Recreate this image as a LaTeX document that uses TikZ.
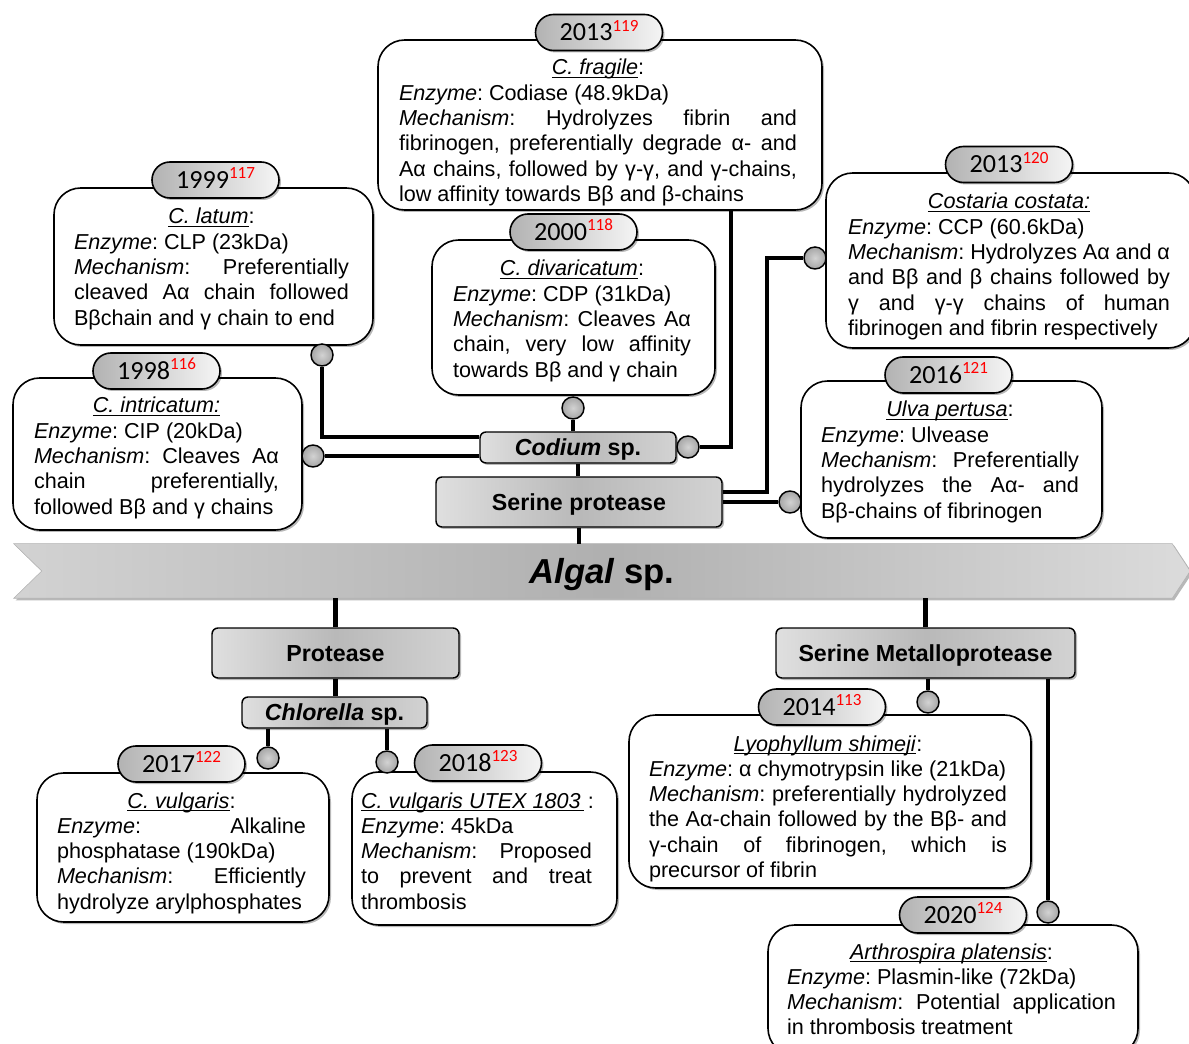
\documentclass[tikz,border=0pt]{standalone}
\usepackage{fontspec}
\setmainfont{Liberation Sans}
\newfontfamily\pillfont{Carlito}
\usetikzlibrary{shadows,backgrounds}
\newcommand\rs{\spaceskip=0pt\xspaceskip=0pt\frenchspacing}
\newcommand\Jl[1]{\makebox[\linewidth][s]{\rs #1}\\}
\newcommand\Cl[1]{\makebox[\linewidth][c]{\rs #1}\\}
\newcommand\Nl[1]{\makebox[\linewidth][l]{\rs #1}\\}
\newcommand\Ll[1]{\makebox[\linewidth][l]{\rs #1}}
\newcommand\Enz{\textit{Enzyme}}
\newcommand\Mech{\textit{Mechanism}}
\newcommand\spc[1]{\underline{\smash{\textit{#1}}}}
\newcommand\ibox[5]{\node[ibox, minimum width={(#4-#2)*0.75pt}, minimum height={(#5-#3)*0.75pt}] (#1) at ({(#2+#4)/2},{(#3+#5)/2}) {};}
\newcommand\lbox[6]{\node[lbox, minimum width={(#4-#2)*0.75pt}, minimum height={(#5-#3)*0.75pt}] (#1) at ({(#2+#4)/2},{(#3+#5)/2}) {#6};}
\newcommand\pill[5]{\node[pill] (#1) at (#2,#3) {#4\raisebox{7pt}{\fontsize{12.8}{13}\selectfont\color{red}#5}};}
\newcommand\knob[3]{\node[knob] (#1) at (#2,#3) {};}
\begin{document}
\begin{tikzpicture}[x=0.75pt,y=-0.75pt,
  conn/.style={line width=3.6pt},
  shad/.style={drop shadow={shadow xshift=1.5pt, shadow yshift=-1.5pt, opacity=0.28, fill=black}},
  ibox/.style={draw, line width=1.2pt, rounded corners=20pt, fill=white, inner sep=0, shad},
  pill/.style={draw, line width=1.2pt, rounded corners=13.5pt, minimum width=95.25pt, minimum height=27pt, inner sep=0, text height=12.4pt, text depth=0pt, left color=gray!60, right color=gray!8, shad, font=\pillfont\fontsize{19.6}{20}\selectfont},
  lbox/.style={draw, line width=1.1pt, rounded corners=4.5pt, inner sep=0, text height=12.5pt, text depth=0pt, left color=gray!25, right color=gray!35, middle color=gray!55, shad, font=\fontsize{17.4}{20}\selectfont\bfseries},
  knob/.style={circle, draw, line width=1.1pt, minimum size=16.5pt, inner sep=0, inner color=gray!35, outer color=gray!70},
  txt/.style={inner sep=0, outer sep=0, align=left, anchor=base west, font=\fontsize{16.2}{18.94}\selectfont},
  bandtext/.style={inner sep=0, text height=18.6pt, text depth=0pt, font=\fontsize{26}{30}\selectfont\bfseries},
  bandfill/.style={left color=gray!35, right color=gray!28, middle color=gray!62, draw=gray!60, line width=0.4pt, shad}
]
\useasboundingbox (0,0) rectangle (1189,1044);
\clip (0,0) rectangle (1189,1044);

% information boxes
\ibox{b1999}{54}{188}{373}{345}
\ibox{b1998}{13}{378}{302}{530}
\ibox{b2013a}{378}{40}{822}{210}
\ibox{b2000}{432}{240}{715}{395}
\ibox{b2013b}{826}{173}{1195}{348}
\ibox{b2016}{801}{381}{1102}{538}
\ibox{b2017}{37}{773}{329}{922}
\ibox{b2018}{352}{772}{617}{925}
\ibox{b2014}{629}{715}{1031}{888}
\ibox{b2020}{768}{925}{1138}{1055}

% year tabs
\pill{p1999}{215.5}{180}{1999}{117}
\pill{p1998}{156.5}{371}{1998}{116}
\pill{p2013a}{599}{32.5}{2013}{119}
\pill{p2000}{573.5}{232}{2000}{118}
\pill{p2013b}{1009}{164.5}{2013}{120}
\pill{p2016}{948.5}{375}{2016}{121}
\pill{p2017}{181.5}{764}{2017}{122}
\pill{p2018}{478}{763}{2018}{123}
\pill{p2014}{822}{707}{2014}{113}
\pill{p2020}{963}{915}{2020}{124}

% label boxes
\lbox{codium}{480}{432}{676}{463}{\textit{Codium} sp.}
\lbox{serine}{436}{477}{722}{527}{Serine protease}
\lbox{protease}{212}{628}{459}{678}{Protease}
\lbox{chlorella}{242}{697}{427}{728}{\textit{Chlorella} sp.}
\lbox{metallo}{776}{628}{1075}{678}{Serine Metalloprotease}

% band (text node; chevron drawn behind)
\node[bandtext, minimum width=882pt, minimum height=40.5pt] (band) at (602,571) {\textit{Algal} sp.};

% circles
\knob{c1999}{322}{355}
\knob{c1998}{313}{456}
\knob{c2000}{573}{408}
\knob{c2013a}{688}{447}
\knob{c2013b}{815}{258}
\knob{c2016}{790}{502}
\knob{c2017}{268}{758}
\knob{c2018}{387}{762}
\knob{c2014}{928}{702}
\knob{c2020}{1048}{912}

\begin{scope}[on background layer]
% chevron band
\path[bandfill] (band.north west) -- ([xshift=-13.5pt]band.north east) -- (band.east)
  -- ([xshift=-13.5pt]band.south east) -- (band.south west) -- ([xshift=21pt]band.west) -- cycle;
% connectors
\draw[conn] (c1999) |- ([yshift=7.9pt]codium.west);
\draw[conn] (c1998) -- (c1998 -| codium.west);
\draw[conn] (c2000) -- (c2000 |- codium.north);
\draw[conn] ([xshift=98.25pt]b2013a.south) |- (c2013a);
\draw[conn] ([yshift=7.5pt]serine.east) -| ([xshift=-36pt]c2013b.center) -- (c2013b);
\draw[conn] (serine.east) -- (c2016);
\draw[conn] (codium.south) -- (codium.south |- serine.north);
\draw[conn] (serine.south) -- (serine.south |- band.north);
\draw[conn] (protease.north) -- (protease.north |- band.south);
\draw[conn] (protease.south) -- (protease.south |- chlorella.north);
\draw[conn] (c2017 |- chlorella.south) -- (c2017);
\draw[conn] (c2018 |- chlorella.south) -- (c2018);
\draw[conn] (metallo.north) -- (metallo.north |- band.south);
\draw[conn] (c2014 |- metallo.south) -- (c2014);
\draw[conn] (c2020 |- metallo.south) -- (c2020);
\end{scope}

% texts
\node[txt, text width=206.25pt] (t1999) at (74,224) {\Cl{\spc{C. latum}:}\Nl{\Enz: CLP (23kDa)}\Jl{\Mech: Preferentially}\Jl{cleaved Aα chain followed}\Ll{Bβchain and γ chain to end}};
\node[txt, text width=183.75pt] (t1998) at (34,413) {\Cl{\spc{C. intricatum:}}\Nl{\Enz: CIP (20kDa)}\Jl{\Mech: Cleaves Aα}\Jl{chain preferentially,}\Ll{followed Bβ and γ chains}};
\node[txt, text width=298.5pt] (t2013a) at (399,75) {\Cl{\spc{C. fragile}:}\Nl{\Enz: Codiase (48.9kDa)}\Jl{\Mech: Hydrolyzes fibrin and}\Jl{fibrinogen, preferentially degrade α- and}\Jl{Aα chains, followed by γ-γ, and γ-chains,}\Ll{low affinity towards Bβ and β-chains}};
\node[txt, text width=178.5pt] (t2000) at (453,276) {\Cl{\spc{C. divaricatum}:}\Nl{\Enz: CDP (31kDa)}\Jl{\Mech: Cleaves Aα}\Jl{chain, very low affinity}\Ll{towards Bβ and γ chain}};
\node[txt, text width=241.5pt] (t2013b) at (848,209) {\Cl{\spc{Costaria costata:}}\Nl{\Enz: CCP (60.6kDa)}\Jl{\Mech: Hydrolyzes Aα and α}\Jl{and Bβ and β chains followed by}\Jl{γ and γ-γ chains of human}\Ll{fibrinogen and fibrin respectively}};
\node[txt, text width=193.5pt] (t2016) at (821,417) {\Cl{\spc{Ulva pertusa}:}\Nl{\Enz: Ulvease}\Jl{\Mech: Preferentially}\Jl{hydrolyzes the Aα- and}\Ll{Bβ-chains of fibrinogen}};
\node[txt, text width=186.75pt] (t2017) at (57,808) {\Cl{\spc{C. vulgaris}:}\Jl{\Enz: Alkaline}\Nl{phosphatase (190kDa)}\Jl{\Mech: Efficiently}\Ll{hydrolyze arylphosphates}};
\node[txt, text width=173.25pt] (t2018) at (361,808) {\Nl{\spc{C. vulgaris UTEX 1803\,}\,:}\Nl{\Enz: 45kDa}\Jl{\Mech: Proposed}\Jl{to prevent and treat}\Ll{thrombosis}};
\node[txt, text width=268.5pt] (t2014) at (649,751) {\Cl{\spc{Lyophyllum shimeji}:}\Nl{\Enz: α chymotrypsin like (21kDa)}\Jl{\Mech: preferentially hydrolyzed}\Jl{the Aα-chain followed by the Bβ- and}\Jl{γ-chain of fibrinogen, which is}\Ll{precursor of fibrin}};
\node[txt, text width=246.75pt] (t2020) at (787,959) {\Cl{\spc{Arthrospira platensis}:}\Nl{\Enz: Plasmin-like (72kDa)}\Jl{\Mech: Potential application}\Ll{in thrombosis treatment}};
\end{tikzpicture}
\end{document}
